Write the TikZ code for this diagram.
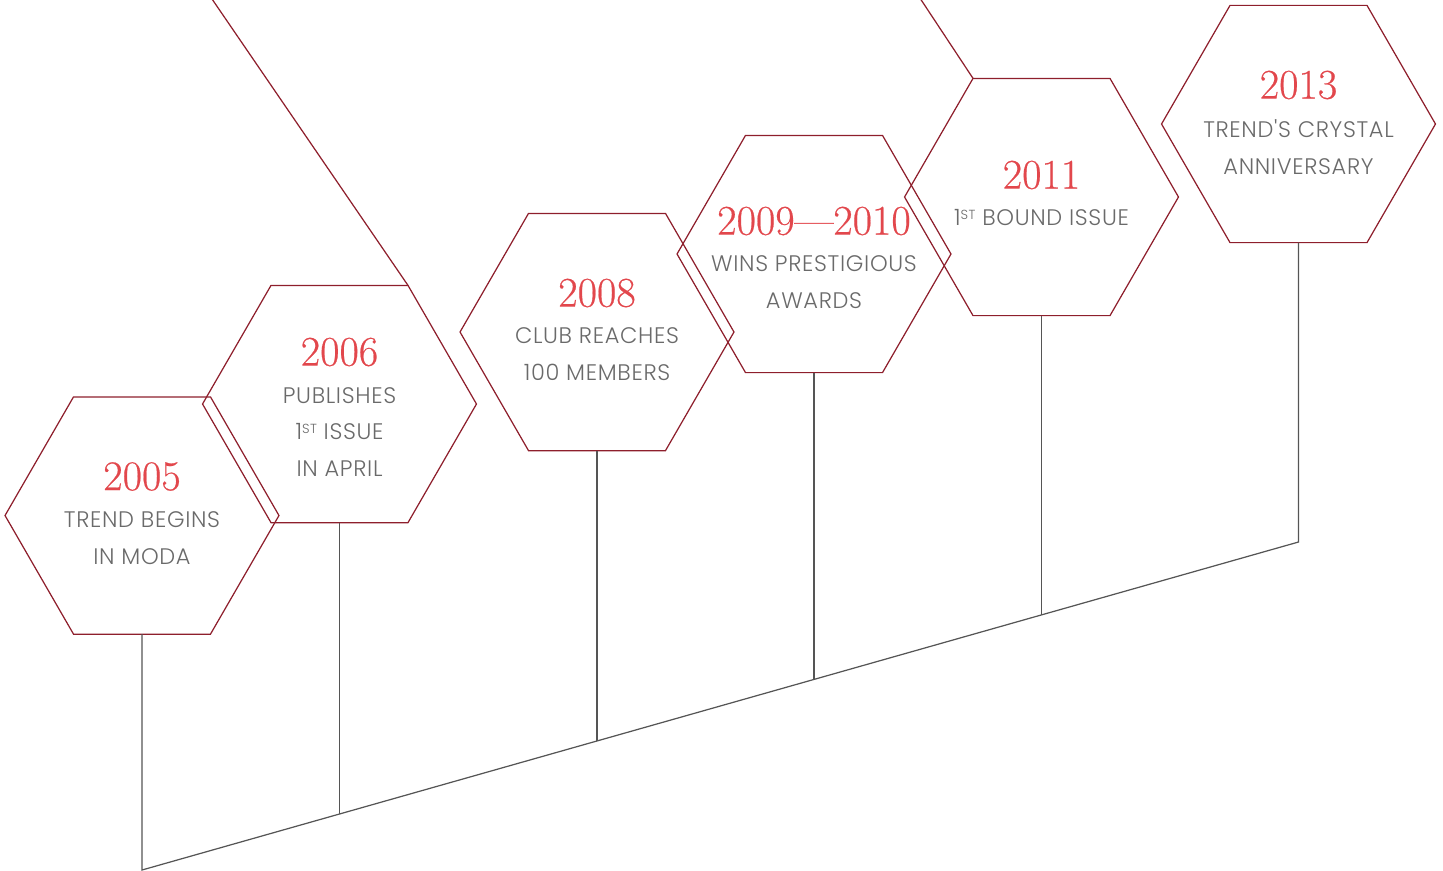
\documentclass[tikz,border=0pt]{standalone}
\usepackage{fontspec}
\newfontfamily\descfont{Poppins}[UprightFont=* Light,LetterSpace=3]
\newfontfamily\yearfont{Latin Modern Roman}[FakeBold=0.5,Ligatures=TeX]
\usetikzlibrary{shapes.geometric,calc}
\definecolor{hexred}{HTML}{8E1F2C}
\definecolor{yearred}{HTML}{E2474C}
\definecolor{textgray}{HTML}{6A6A6A}
\definecolor{linegray}{HTML}{555555}
\newcommand{\st}{\raisebox{0.55ex}{\fontsize{7.5}{7.5}\selectfont ST}}
\tikzset{
  hexa/.style={regular polygon,regular polygon sides=6,minimum size=5.48cm,
    inner sep=0pt,outer sep=0pt,draw=hexred,line width=0.7pt},
  yearlbl/.style={text=yearred,font=\yearfont\fontsize{24}{24}\selectfont,inner sep=0pt},
  desclbl/.style={text=textgray,font=\descfont\fontsize{12.8}{21}\selectfont,
    align=center,inner sep=0pt},
  stem/.style={draw=linegray,line width=0.7pt},
  deco/.style={draw=hexred,line width=0.7pt},
}
\providecommand{\Milestone}[6]{
\node[hexa] (#1) at (#2) {};
\node[yearlbl] (#1-year) at ($(#1)+(0,#3)$) {#4};
\node[desclbl] (#1-text) at ($(#1)+(0,#5)$) {#6};
}
\begin{document}
\begin{tikzpicture}[x=0.02cm,y=-0.02cm]
\useasboundingbox (0,0) rectangle (1443,870);
\clip (0,0) rectangle (1443,870);
\Milestone{h2005}{142,515.5}{-39}{2005}{22.5}{TREND BEGINS\\IN MODA}
\Milestone{h2006}{339.5,404}{-52}{2006}{28}{PUBLISHES\\1\st{} ISSUE\\IN APRIL}
\Milestone{h2008}{597,332}{-39}{2008}{22.5}{CLUB REACHES\\100 MEMBERS}
\Milestone{h2009}{814,254}{-33}{2009—2010}{28.5}{WINS PRESTIGIOUS\\AWARDS}
\Milestone{h2011}{1041.5,197}{-22}{2011}{21}{1\st{} BOUND ISSUE}
\Milestone{h2013}{1298.5,124}{-39}{2013}{23}{TREND'S CRYSTAL\\ANNIVERSARY}
% slanted lines off the top edge
\coordinate (top1) at (199,-20);
\coordinate (top2) at (908,-20);
\draw[deco] (h2006.60) -- (top1);
\draw[deco] (h2011.120) -- (top2);
% baseline and stems
\coordinate (b0) at (142,870);
\coordinate (b1) at (339.5,814);
\coordinate (b2) at (597,741);
\coordinate (b3) at (814,679.4);
\coordinate (b4) at (1041.5,614.9);
\coordinate (b5) at (1298.5,542);
\draw[stem] (h2005.south) -- (b0) -- (b5) -- (h2013.south);
\foreach \h/\b in {h2006/b1,h2008/b2,h2009/b3,h2011/b4}
  \draw[stem] (\h.south) -- (\b);
\end{tikzpicture}
\end{document}
